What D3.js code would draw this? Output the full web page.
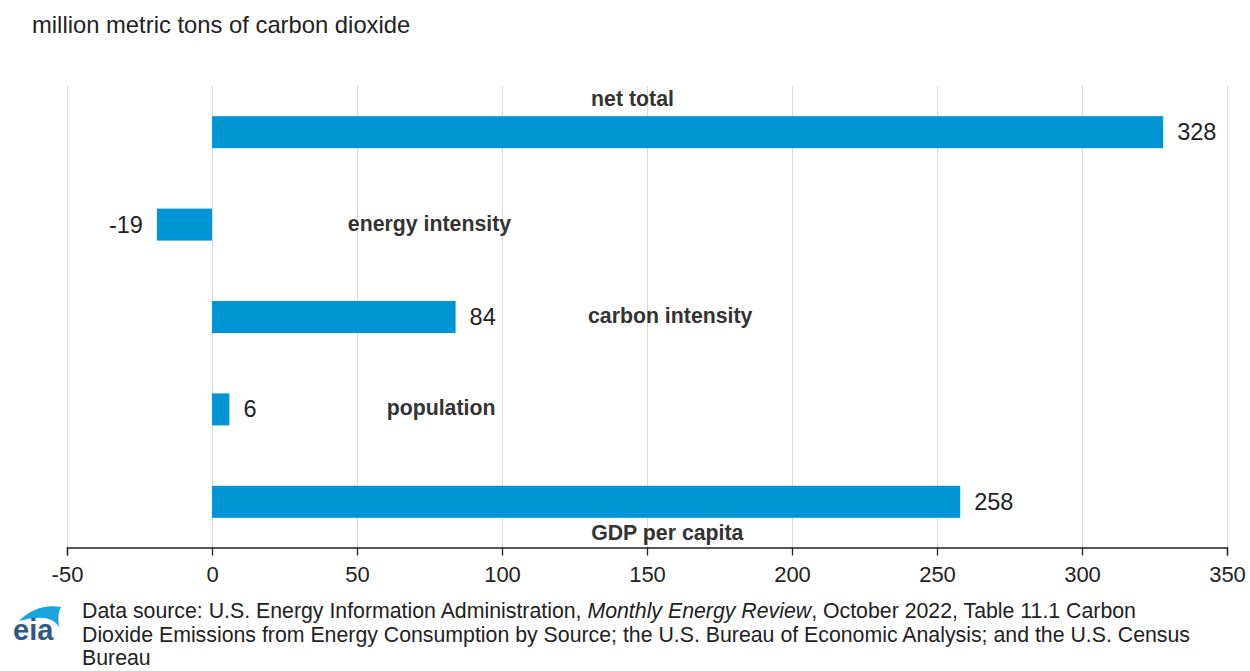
<!DOCTYPE html>
<html>
<head>
<meta charset="utf-8">
<script src="https://cdn.jsdelivr.net/npm/d3@7"></script>
<style>
  body { margin: 0; background: #fff; }
  text { font-family: "Liberation Sans", Arial, sans-serif; }
</style>
</head>
<body>
<svg id="chart"></svg>
<script>
// data
const categories = ['net total', 'energy intensity', 'carbon intensity', 'population', 'GDP per capita'];
const values = [328, -19, 84, 6, 258];
const xTicks = [-50, 0, 50, 100, 150, 200, 250, 300, 350];

// where each category name sits (x in data units, placement relative to bar)
const labelAt = [
  { x: 145, place: 'above' },
  { x: 75, place: 'middle' },
  { x: 158, place: 'middle' },
  { x: 79, place: 'middle' },
  { x: 157, place: 'below' },
];

const W = 1250, H = 671;
const svg = d3.select('#chart').attr('width', W).attr('height', H);

const x = d3.scaleLinear().domain([-50, 350]).range([67, 1227]);
const y = d3.scalePoint().domain(categories).range([86, 548]).padding(0.5);
const barH = 32;
const axisY = 547.5;

svg.append('text')
  .attr('x', 32).attr('y', 33)
  .attr('font-size', 23.8).attr('fill', '#222')
  .text('million metric tons of carbon dioxide');

// gridlines
svg.append('g').selectAll('line')
  .data(xTicks)
  .join('line')
  .attr('x1', d => Math.round(x(d)) + 0.5)
  .attr('x2', d => Math.round(x(d)) + 0.5)
  .attr('y1', 86).attr('y2', axisY)
  .attr('stroke', '#d9d9d9').attr('stroke-width', 1);

// bars
const rows = categories.map((c, i) => ({ cat: c, v: values[i], lab: labelAt[i] }));
svg.append('g').selectAll('rect')
  .data(rows)
  .join('rect')
  .attr('x', d => x(Math.min(0, d.v)))
  .attr('width', d => Math.abs(x(d.v) - x(0)))
  .attr('y', d => y(d.cat) - barH / 2)
  .attr('height', barH)
  .attr('fill', '#0096d6');

// value labels
svg.append('g').selectAll('text')
  .data(rows)
  .join('text')
  .attr('x', d => d.v < 0 ? x(d.v) - 14 : x(d.v) + 14)
  .attr('y', d => y(d.cat) + 8)
  .attr('text-anchor', d => d.v < 0 ? 'end' : 'start')
  .attr('font-size', 23.5).attr('fill', '#222')
  .text(d => d.v);

// category labels
svg.append('g').selectAll('text')
  .data(rows)
  .join('text')
  .attr('x', d => x(d.lab.x))
  .attr('y', d => {
    const c = y(d.cat);
    if (d.lab.place === 'above') return c - barH / 2 - 10;
    if (d.lab.place === 'below') return c + barH / 2 + 22;
    return c + 6;
  })
  .attr('text-anchor', 'middle')
  .attr('font-size', 21.3).attr('font-weight', 'bold').attr('fill', '#333')
  .text(d => d.cat);

// x axis
const axis = svg.append('g')
  .attr('transform', `translate(0,${axisY})`)
  .call(d3.axisBottom(x).tickValues(xTicks).tickSize(8).tickPadding(11).tickFormat(d3.format('d')));
axis.select('.domain').attr('stroke', '#222').attr('stroke-width', 1.3);
axis.selectAll('.tick line').attr('stroke', '#222').attr('stroke-width', 1.3);
axis.selectAll('.tick text')
  .attr('font-size', 22).attr('fill', '#222')
  .attr('font-family', '"Liberation Sans", Arial, sans-serif')
  .text(d => d < 0 ? '-' + Math.abs(d) : d);

// eia logo
const logo = svg.append('g').attr('transform', 'translate(13,599)');
logo.append('path')
  .attr('d', 'M6,22 Q24,4 48,8 Q44,15 46,28 Q38,13 6,22 Z')
  .attr('fill', '#1aa3dd');
logo.append('text')
  .attr('x', 0).attr('y', 41)
  .attr('font-size', 29).attr('font-weight', 'bold')
  .attr('fill', '#2e5b85')
  .text('eia');

// source note
const src = svg.append('g').attr('font-size', 21.3).attr('fill', '#222');
const l1 = src.append('text').attr('x', 82).attr('y', 618);
l1.append('tspan').text('Data source: U.S. Energy Information Administration, ');
l1.append('tspan').attr('font-style', 'italic').text('Monthly Energy Review');
l1.append('tspan').text(', October 2022, Table 11.1 Carbon');
src.append('text').attr('x', 82).attr('y', 642)
  .text('Dioxide Emissions from Energy Consumption by Source; the U.S. Bureau of Economic Analysis; and the U.S. Census');
src.append('text').attr('x', 82).attr('y', 665).text('Bureau');
</script>
</body>
</html>
